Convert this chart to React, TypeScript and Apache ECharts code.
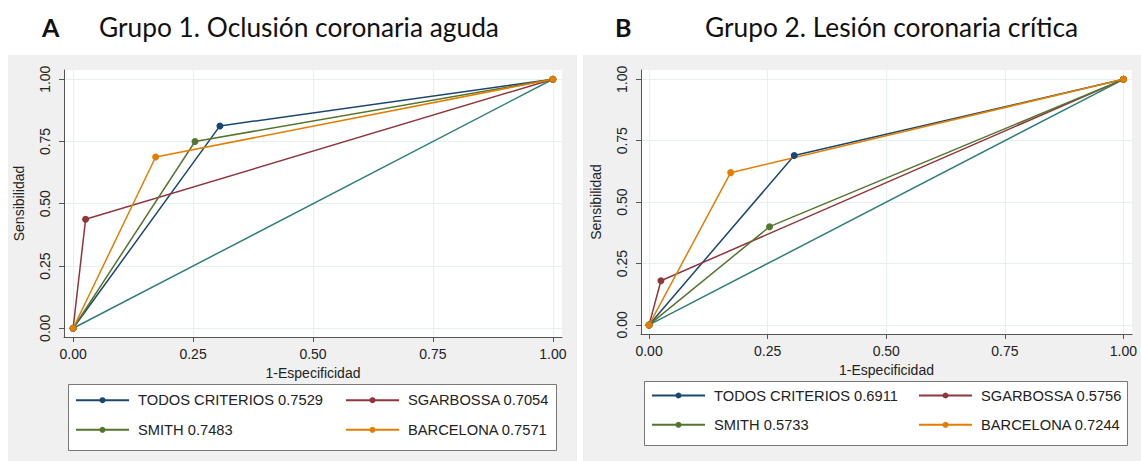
import React, { useEffect, useRef } from "react";
import * as echarts from "echarts";

// ---- data ----
const tickValues = [0, 0.25, 0.5, 0.75, 1];
const seriesNames = ["TODOS CRITERIOS", "SGARBOSSA", "SMITH", "BARCELONA"];
const seriesColors = ["#1a476f", "#90353b", "#55752f", "#e37e00"];
const diagonalColor = "#2f7f78";

const aucA = ["0.7529", "0.7054", "0.7483", "0.7571"];
const aucB = ["0.6911", "0.5756", "0.5733", "0.7244"];

// ROC points [1-specificity, sensitivity]
const todosA = [[0, 0], [0.306, 0.8125], [1, 1]];
const sgarbossaA = [[0, 0], [0.026, 0.4375], [1, 1]];
const smithA = [[0, 0], [0.254, 0.75], [1, 1]];
const barcelonaA = [[0, 0], [0.172, 0.6875], [1, 1]];

const todosB = [[0, 0], [0.306, 0.69], [1, 1]];
const sgarbossaB = [[0, 0], [0.025, 0.18], [1, 1]];
const smithB = [[0, 0], [0.254, 0.40], [1, 1]];
const barcelonaB = [[0, 0], [0.172, 0.62], [1, 1]];

const diagonal = [[0, 0], [1, 1]];

const titleA = "Grupo 1. Oclusión coronaria aguda";
const titleB = "Grupo 2. Lesión coronaria crítica";
const xName = "1-Especificidad";
const yName = "Sensibilidad";

const FONT = "Liberation Sans, Arial, sans-serif";
const TFONT = "Lato, Open Sans, sans-serif";

function makeAxis(dim: "x" | "y", idx: number, min: number, max: number) {
  return {
    type: "value",
    gridIndex: idx,
    min,
    max,
    name: dim === "x" ? xName : yName,
    nameLocation: "middle",
    nameGap: dim === "x" ? 24 : 38,
    nameTextStyle: { fontFamily: FONT, fontSize: 14, color: "#222" },
    axisLine: { show: true, onZero: false, lineStyle: { color: "#555", width: 1 } },
    axisTick: { show: true, length: 5, inside: false, customValues: tickValues, lineStyle: { color: "#555" } },
    axisLabel: {
      customValues: tickValues,
      formatter: (v: number) => v.toFixed(2),
      fontFamily: FONT,
      fontSize: 14,
      color: "#222",
      margin: dim === "x" ? 10 : 12,
      rotate: dim === "y" ? 90 : 0,
    },
    splitLine: { show: true, lineStyle: { color: "#e6f0f1", width: 1.2 } },
  };
}

function panelSeries(idx: number, aucs: string[], sets: number[][][]) {
  const out: any[] = [
    {
      type: "line",
      name: "ref" + idx,
      xAxisIndex: idx,
      yAxisIndex: idx,
      data: diagonal,
      showSymbol: false,
      symbol: "none",
      lineStyle: { color: diagonalColor, width: 1.5 },
      itemStyle: { color: diagonalColor },
      silent: true,
    },
  ];
  sets.forEach((d, i) => {
    out.push({
      type: "line",
      name: seriesNames[i] + " " + aucs[i],
      xAxisIndex: idx,
      yAxisIndex: idx,
      data: d,
      symbol: "circle",
      symbolSize: 7,
      showSymbol: true,
      lineStyle: { color: seriesColors[i], width: 1.5 },
      itemStyle: { color: seriesColors[i] },
    });
  });
  return out;
}

function legendCol(left: number, top: number, gap: number, names: string[]) {
  return {
    show: true,
    orient: "vertical",
    left,
    top,
    padding: 0,
    itemWidth: 53,
    itemHeight: 7.5,
    itemGap: gap,
    data: names,
    textStyle: { fontFamily: FONT, fontSize: 14.7, color: "#222", padding: [0, 0, 0, 4] },
    selectedMode: false,
  };
}

export default function App() {
  const ref = useRef<HTMLDivElement>(null);
  useEffect(() => {
    if (!ref.current) return;
    const chart = echarts.init(ref.current, undefined, { renderer: "svg" });
    const nA = seriesNames.map((s, i) => s + " " + aucA[i]);
    const nB = seriesNames.map((s, i) => s + " " + aucB[i]);
    chart.setOption({
      animation: false,
      backgroundColor: "#fff",
      grid: [
        { left: 64, right: 579, top: 70, bottom: 124, show: true, backgroundColor: "#fff", borderWidth: 0 },
        { left: 641, right: 9, top: 70, bottom: 127, show: true, backgroundColor: "#fff", borderWidth: 0 },
      ],
      xAxis: [makeAxis("x", 0, -0.019, 1.019), makeAxis("x", 1, -0.017, 1.018)],
      yAxis: [makeAxis("y", 0, -0.035, 1.037), makeAxis("y", 1, -0.037, 1.038)],
      legend: [
        legendCol(75, 392.7, 14.6, [nA[0], nA[2]]),
        legendCol(345, 392.7, 14.6, [nA[1], nA[3]]),
        legendCol(651, 388, 14.3, [nB[0], nB[2]]),
        legendCol(918, 388, 14.3, [nB[1], nB[3]]),
      ],
      series: [
        ...panelSeries(0, aucA, [todosA, sgarbossaA, smithA, barcelonaA]),
        ...panelSeries(1, aucB, [todosB, sgarbossaB, smithB, barcelonaB]),
      ],
      graphic: [
        { type: "rect", z: -10, shape: { x: 8, y: 55, width: 569, height: 406 }, style: { fill: "#f0f0f0" } },
        { type: "rect", z: -10, shape: { x: 583, y: 55, width: 558, height: 406 }, style: { fill: "#f0f0f0" } },
        { type: "rect", z: -5, shape: { x: 68.5, y: 384.5, width: 488, height: 66 }, style: { fill: "#fff", stroke: "#777", lineWidth: 1 } },
        { type: "rect", z: -5, shape: { x: 644.5, y: 381.5, width: 483, height: 64 }, style: { fill: "#fff", stroke: "#777", lineWidth: 1 } },
        { type: "text", x: 42, y: 27, style: { text: "A", fontFamily: TFONT, fontWeight: "bold", fontSize: 25, fill: "#111", verticalAlign: "middle" } },
        { type: "text", x: 99, y: 27, style: { text: titleA, fontFamily: TFONT, fontSize: 26.3, fill: "#111", verticalAlign: "middle" } },
        { type: "text", x: 615, y: 27, style: { text: "B", fontFamily: TFONT, fontWeight: "bold", fontSize: 25, fill: "#111", verticalAlign: "middle" } },
        { type: "text", x: 705, y: 27, style: { text: titleB, fontFamily: TFONT, fontSize: 26.3, fill: "#111", verticalAlign: "middle" } },
      ],
    });
    return () => chart.dispose();
  }, []);
  return <div ref={ref} style={{ position: "absolute", left: 0, top: 0, width: 1141, height: 461 }} />;
}
